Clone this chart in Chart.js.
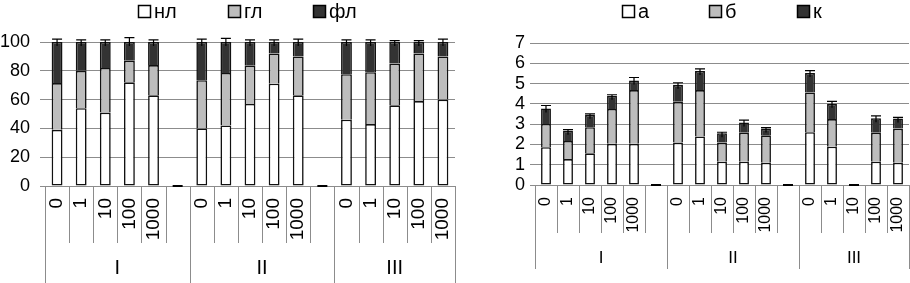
<!DOCTYPE html>
<html lang="ru">
<head>
<meta charset="UTF-8">
<title>Stacked bars</title>
<script src="https://cdn.jsdelivr.net/npm/chart.js"></script>
<style>
  body { margin: 0; background: #fff; }
  #left { position: absolute; left: 0; top: 0; }
  #right { position: absolute; left: 460px; top: 0; }
</style>
</head>
<body>
<canvas id="left" width="460" height="283"></canvas>
<canvas id="right" width="450" height="283"></canvas>
<script>
  const doses = ['0', '1', '10', '100', '1000'];
  const groups = ['I', 'II', 'III'];

  // left chart, % (groups I, II, III one after another)
  const nl = [39, 54, 51, 72, 63,   40, 42, 57, 71, 63,   46, 43, 56, 59, 60];
  const gl = [32.5, 26, 31, 15, 21, 33.5, 36.5, 26.5, 21, 27, 31.6, 36, 29, 33, 30];
  const fl = [28.5, 20, 18, 13, 16, 26.5, 21.5, 16.5, 8, 10, 22.4, 21, 15, 8, 10];
  const errLeft = [2, 1.5, 1.5, 3, 1.5,  2, 2.5, 1.5, 1.5, 2,  1.5, 1.5, 1, 1, 2];

  // right chart
  const a = [1.86, 1.28, 1.56, 2.03, 2.03,  2.09, 2.39, 1.15, 1.15, 1.10,  2.60, 1.89, 0, 1.15, 1.10];
  const b = [1.15, 0.89, 1.29, 1.72, 2.65,  2.01, 2.29, 0.94, 1.43, 1.35,  1.96, 1.36, 0, 1.43, 1.68];
  const k = [0.76, 0.51, 0.61, 0.65, 0.47,  0.84, 0.94, 0.46, 0.50, 0.33,  0.96, 0.75, 0, 0.71, 0.50];
  const errRight = [0.15, 0.05, 0.05, 0.05, 0.15,  0.1, 0.1, 0.05, 0.12, 0.05,  0.12, 0.12, 0, 0.12, 0.05];

  // empty slot after each group except the last
  function spread(arr) {
    const out = [];
    groups.forEach((g, gi) => {
      out.push(...arr.slice(gi * doses.length, (gi + 1) * doses.length));
      if (gi < groups.length - 1) out.push(0);
    });
    return out;
  }
  const labels = spread(doses.concat(doses, doses)).map(v => v === 0 ? '' : v);
  const groupSizes = groups.map((g, gi) => doses.length + (gi < groups.length - 1 ? 1 : 0));

  const FONT = '"Liberation Sans", Arial, sans-serif';
  const WHITE = '#ffffff', GREY = '#bdbdbd', DARK = '#333333';

  const groupAxis = {
    id: 'groupAxis',
    afterDraw(chart, args, o) {
      const { ctx, scales: { x } } = chart;
      const n = chart.data.labels.length;
      const slot = x.getPixelForValue(1) - x.getPixelForValue(0);
      const top = chart.chartArea.bottom;
      const bounds = [0];
      groupSizes.forEach(s => bounds.push(bounds[bounds.length - 1] + s));
      ctx.save();
      ctx.strokeStyle = '#8c8c8c';
      ctx.lineWidth = 1;
      for (let i = 0; i <= n; i++) {
        const bx = Math.round(x.getPixelForValue(i) - slot / 2) + 0.5;
        ctx.beginPath();
        ctx.moveTo(bx, top);
        ctx.lineTo(bx, bounds.includes(i) ? o.groupBottom : o.minorBottom);
        ctx.stroke();
      }
      ctx.fillStyle = '#000';
      ctx.font = o.groupFont + 'px ' + FONT;
      ctx.textAlign = 'center';
      ctx.textBaseline = 'middle';
      groups.forEach((g, gi) => {
        const x0 = x.getPixelForValue(bounds[gi]) - slot / 2;
        const x1 = x.getPixelForValue(bounds[gi + 1] - 1) + slot / 2;
        ctx.fillText(g, (x0 + x1) / 2, o.groupLabelY);
      });
      ctx.restore();
    }
  };

  // only the upper half of each whisker is visible over the dark segment
  const errorBars = {
    id: 'errorBars',
    afterDatasetsDraw(chart, args, o) {
      const { ctx, scales: { x, y } } = chart;
      ctx.save();
      ctx.strokeStyle = '#000';
      chart.data.labels.forEach((l, i) => {
        const total = chart.data.datasets.reduce((s, d) => s + (d.data[i] || 0), 0);
        const px = x.getPixelForValue(i);
        if (!total) {
          ctx.lineWidth = 2;
          ctx.beginPath();
          ctx.moveTo(px - o.cap, y.getPixelForValue(0));
          ctx.lineTo(px + o.cap, y.getPixelForValue(0));
          ctx.stroke();
          return;
        }
        const e = o.err[i];
        if (!e) return;
        const y1 = y.getPixelForValue(total + e), y2 = y.getPixelForValue(total);
        ctx.lineWidth = 1.2;
        ctx.beginPath();
        ctx.moveTo(px, y1); ctx.lineTo(px, y2 + 4);
        ctx.moveTo(px - o.cap, y1); ctx.lineTo(px + o.cap, y1);
        ctx.stroke();
      });
      ctx.restore();
    }
  };

  const boxLegend = {
    id: 'boxLegend',
    afterDraw(chart, args, o) {
      const { ctx } = chart;
      ctx.save();
      ctx.font = '20px ' + FONT;
      ctx.textBaseline = 'middle';
      ctx.textAlign = 'left';
      chart.data.datasets.forEach((d, i) => {
        const lx = o.x[i];
        ctx.fillStyle = d.backgroundColor;
        ctx.fillRect(lx, 5, 13, 13);
        ctx.strokeStyle = '#000';
        ctx.lineWidth = 1.5;
        ctx.strokeRect(lx + 0.5, 5.5, 12, 12);
        ctx.fillStyle = '#000';
        ctx.fillText(d.label, lx + 16, 12);
      });
      ctx.restore();
    }
  };

  function makeChart(id, series, names, o) {
    const colors = [WHITE, GREY, DARK];
    new Chart(document.getElementById(id), {
      type: 'bar',
      data: {
        labels: labels,
        datasets: series.map((s, i) => ({
          label: names[i],
          data: spread(s),
          backgroundColor: colors[i],
          borderColor: '#111',
          borderWidth: 1.6,
          borderSkipped: i === 0 ? false : 'start',
          barPercentage: o.barPct,
          categoryPercentage: 1
        }))
      },
      options: {
        responsive: false,
        animation: false,
        layout: { padding: { top: o.padTop, right: o.padRight, left: 0, bottom: 0 } },
        scales: {
          x: {
            stacked: true,
            grid: { display: false, drawTicks: false },
            border: { display: false },
            ticks: {
              autoSkip: false, minRotation: 90, maxRotation: 90, padding: 12,
              color: '#000', font: { family: FONT, size: o.catFont }
            },
            afterFit: s => { s.height = o.xHeight; s.paddingLeft = 0; s.paddingRight = 0; }
          },
          y: {
            stacked: true,
            min: 0,
            max: o.yMax,
            ticks: {
              stepSize: o.yStep, autoSkip: false, padding: o.yPad,
              color: '#000', font: { family: FONT, size: 18 }
            },
            grid: { color: '#8c8c8c', tickLength: 5 },
            border: { display: false },
            afterFit: s => { s.width = o.yWidth; }
          }
        },
        plugins: {
          legend: { display: false },
          tooltip: { enabled: false },
          groupAxis: o,
          errorBars: { err: spread(o.err), cap: o.cap },
          boxLegend: { x: o.legendX }
        }
      },
      plugins: [groupAxis, errorBars, boxLegend]
    });
  }

  makeChart('left', [nl, gl, fl], ['нл', 'гл', 'фл'], {
    yMax: 100, yStep: 20, yPad: 10, yWidth: 45, padTop: 42, padRight: 5, xHeight: 97,
    barPct: 0.45, catFont: 19, groupFont: 20, cap: 5,
    minorBottom: 243, groupBottom: 283, groupLabelY: 268,
    legendX: [138, 228, 313], err: errLeft
  });

  makeChart('right', [a, b, k], ['а', 'б', 'к'], {
    yMax: 7, yStep: 1, yPad: 5, yWidth: 75, padTop: 43, padRight: 1, xHeight: 98,
    barPct: 0.45, catFont: 16, groupFont: 17, cap: 5,
    minorBottom: 233, groupBottom: 269, groupLabelY: 258,
    legendX: [162, 249, 337], err: errRight
  });
</script>
</body>
</html>
